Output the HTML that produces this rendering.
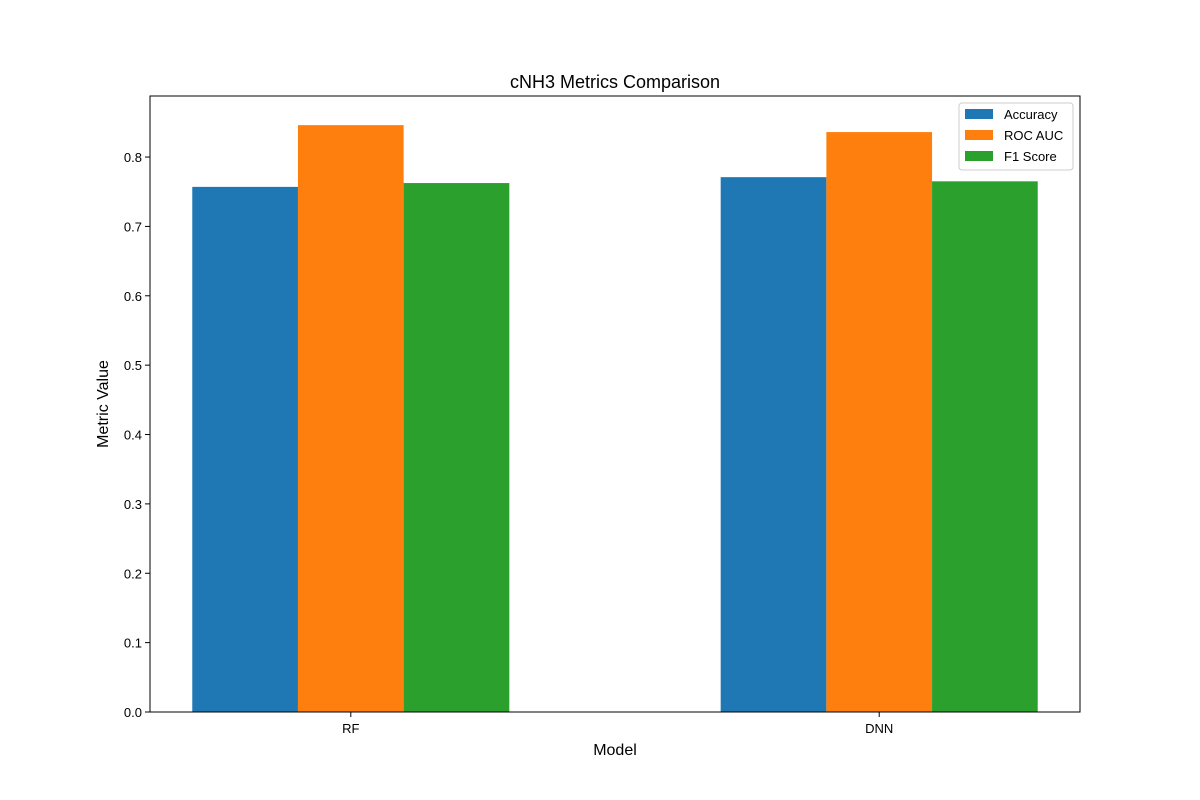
<!DOCTYPE html>
<html><head><meta charset="utf-8"><style>body{margin:0;background:#fff}svg{display:block}</style></head>
<body>
<svg id="chart" width="1200" height="800" xmlns="http://www.w3.org/2000/svg" font-family="Liberation Sans, DejaVu Sans, sans-serif">
<rect width="1200" height="800" fill="#fff"/>
<text x="615" y="88" text-anchor="middle" font-size="18">cNH3 Metrics Comparison</text>
<g id="bars"></g>
<g id="axes"></g>
<text x="615" y="755" text-anchor="middle" font-size="16">Model</text>
<text transform="translate(108,404) rotate(-90)" text-anchor="middle" font-size="16">Metric Value</text>
<g id="legend">
<rect x="959" y="103" width="114" height="67" fill="#fff" fill-opacity="0.8" stroke="#ccc" rx="3"/>
</g>
</svg>
<script>
const categories = ["RF", "DNN"];
const seriesNames = ["Accuracy", "ROC AUC", "F1 Score"];
const accuracy = [0.757, 0.771];
const rocAuc = [0.846, 0.836];
const f1Score = [0.7625, 0.765];
const yTicks = [0, 0.1, 0.2, 0.3, 0.4, 0.5, 0.6, 0.7, 0.8];
const colors = ["#1f77b4", "#ff7f0e", "#2ca02c"];
const NS = "http://www.w3.org/2000/svg";
const L = 150, R = 1080, T = 96, B = 712;
const xMin = -0.38, xMax = 1.38, yMin = 0, yMax = 0.888;
const xs = v => L + (v - xMin) / (xMax - xMin) * (R - L);
const ys = v => B - (v - yMin) / (yMax - yMin) * (B - T);
function mk(tag, attrs, parent) { const e = document.createElementNS(NS, tag); for (const k in attrs) e.setAttribute(k, attrs[k]); parent.appendChild(e); return e; }
const bars = document.getElementById("bars"), axes = document.getElementById("axes"), legend = document.getElementById("legend");
const series = [accuracy, rocAuc, f1Score];
const w = 0.2;
series.forEach((s, si) => {
  s.forEach((v, ci) => {
    const x0 = xs(ci + (si - 1) * w - w / 2), x1 = xs(ci + (si - 1) * w + w / 2);
    const r = mk("rect", { x: x0, y: ys(v), width: x1 - x0, height: ys(0) - ys(v), fill: colors[si] }, bars);
    
    
  });
});
mk("rect", { x: L, y: T, width: R - L, height: B - T, fill: "none", stroke: "#000", "stroke-width": 1 }, axes);
yTicks.forEach(t => {
  mk("line", { x1: L - 5, x2: L, y1: ys(t), y2: ys(t), stroke: "#000" }, axes);
  const tx = mk("text", { x: L - 8, y: ys(t) + 5, "text-anchor": "end", "font-size": 13 }, axes);
  tx.textContent = t.toFixed(1);
  
  
});
categories.forEach((c, i) => {
  mk("line", { x1: xs(i), x2: xs(i), y1: B, y2: B + 5, stroke: "#000" }, axes);
  const tx = mk("text", { x: xs(i), y: B + 21, "text-anchor": "middle", "font-size": 13 }, axes);
  tx.textContent = c;
  
  
});
seriesNames.forEach((n, i) => {
  const y = 109 + i * 21;
  mk("rect", { x: 965, y: y, width: 28, height: 10, fill: colors[i] }, legend);
  const tx = mk("text", { x: 1004, y: y + 10, "font-size": 13 }, legend);
  tx.textContent = n;
  
  
});
</script>
</body></html>
